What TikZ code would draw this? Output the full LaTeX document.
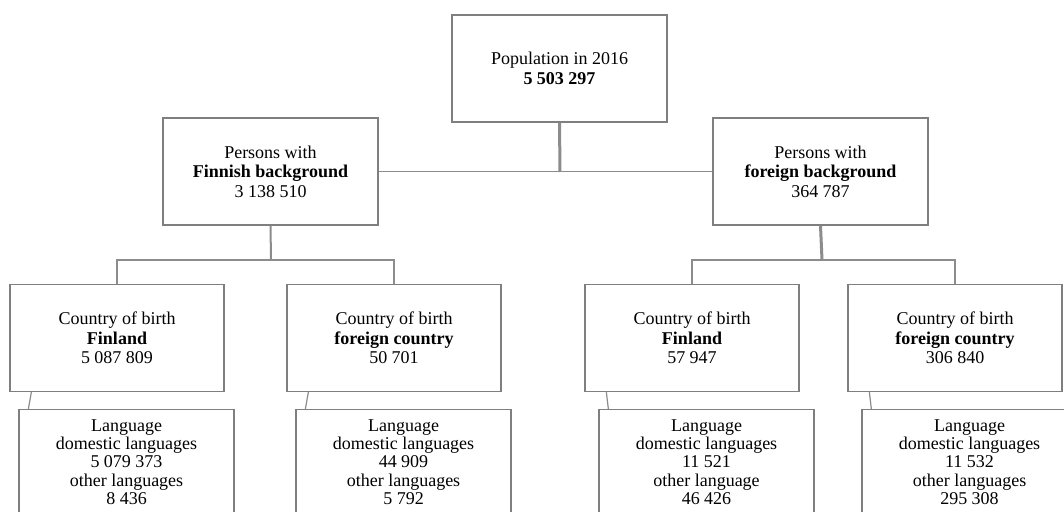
\documentclass[tikz,border=0pt]{standalone}
\usepackage{fontspec}
\setmainfont{Liberation Serif}
\definecolor{boxgray}{HTML}{7F7F7F}
\definecolor{linegray}{HTML}{8C8C8C}
\newcommand{\langtext}[1]{\begin{minipage}[t][112pt][t]{215pt}\centering #1\end{minipage}}
\begin{document}
\begin{tikzpicture}[x=1pt,y=-1pt,
  box/.style={draw=boxgray, line width=1.3pt, fill=white, minimum width=215pt,
    minimum height=107pt, align=center, inner sep=0pt,
    font=\fontsize{18}{19.5}\selectfont},
  langbox/.style={draw=boxgray, line width=1.3pt, fill=white,
    inner xsep=0pt, inner ysep=10pt, anchor=north,
    font=\fontsize{18}{18.2}\selectfont},
  conn/.style={draw=linegray, line width=1.2pt},
  connthick/.style={draw=linegray, line width=3pt},
  connmid/.style={draw=linegray, line width=2pt}]
\useasboundingbox (0,0) rectangle (1064,511);
\clip (0,0) rectangle (1064,511);
\fill[white] (0,0) rectangle (1064,511);

\coordinate (j0) at (560,172);
\coordinate (b1) at (271,260);
\coordinate (b2) at (822,260);

\node[box] (top) at (559.5,68.5) {Population in 2016\\\textbf{5 503 297}};
\node[box] (fin) at (270.5,171.5) {Persons with\\\textbf{Finnish background}\\3 138 510};
\node[box] (for) at (820.5,171.5) {Persons with\\\textbf{foreign background}\\364 787};

\node[box,minimum width=214pt] (c1) at (117,338) {Country of birth\\\textbf{Finland}\\5 087 809};
\node[box,minimum width=214pt] (c2) at (394,338) {Country of birth\\\textbf{foreign country}\\50 701};
\node[box,minimum width=214pt] (c3) at (692,338) {Country of birth\\\textbf{Finland}\\57 947};
\node[box,minimum width=214pt] (c4) at (955,338) {Country of birth\\\textbf{foreign country}\\306 840};

\node[langbox] (l1) at (126.5,409) {\langtext{Language\\domestic languages\\5 079 373\\other languages\\8 436}};
\node[langbox] (l2) at (403.5,409) {\langtext{Language\\domestic languages\\44 909\\other languages\\5 792}};
\node[langbox] (l3) at (706.5,409) {\langtext{Language\\domestic languages\\11 521\\other language\\46 426}};
\node[langbox] (l4) at (969.5,409) {\langtext{Language\\domestic languages\\11 532\\other languages\\295 308}};

\draw[connthick] (top.south) -- (j0);
\draw[conn] (fin.east) -- (for.west);
\draw[connmid] (fin.south) -- (b1);
\draw[connthick] (for.south) -- (b2);
\draw[conn] (c1.north) |- (b1) -| (c2.north);
\draw[conn] (c3.north) |- (b2) -| (c4.north);

\draw[conn] ([xshift=22pt]c1.south west) -- ([xshift=10pt]l1.north west);
\draw[conn] ([xshift=22pt]c2.south west) -- ([xshift=10pt]l2.north west);
\draw[conn] ([xshift=22pt]c3.south west) -- ([xshift=10pt]l3.north west);
\draw[conn] ([xshift=22pt]c4.south west) -- ([xshift=10pt]l4.north west);
\end{tikzpicture}
\end{document}
